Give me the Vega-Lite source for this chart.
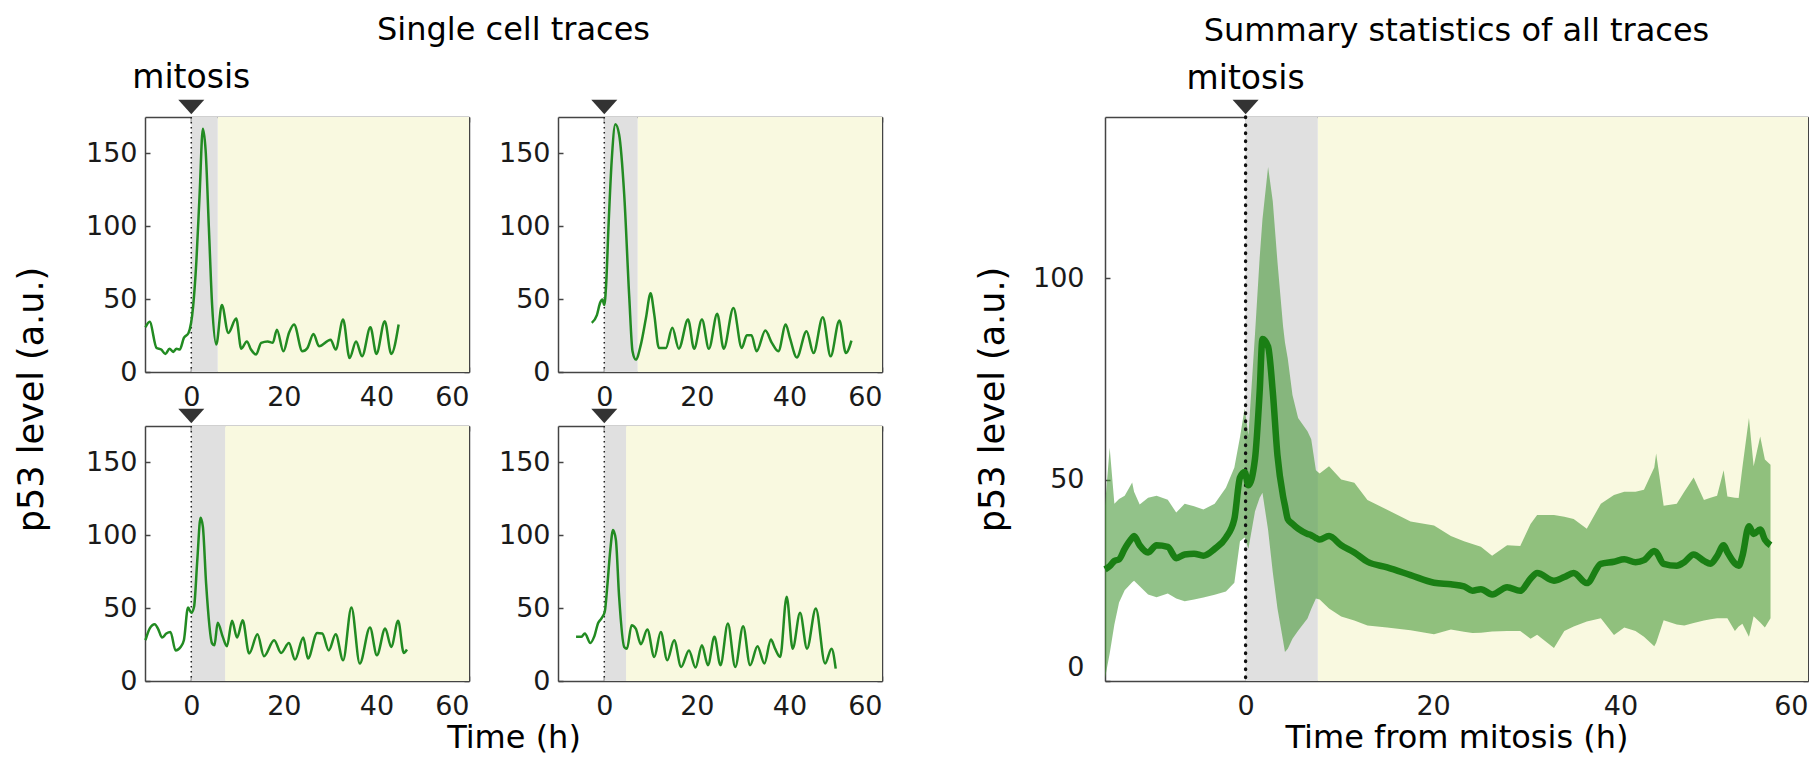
{
  "$schema": "https://vega.github.io/schema/vega-lite/v6.json",
  "background": "white",
  "padding": {"left": 14, "top": 14, "right": 0, "bottom": 6},
  "config": {
    "font": "DejaVu Sans",
    "view": {"stroke": null},
    "title": {"fontSize": 32, "fontWeight": "normal", "color": "#000", "font": "DejaVu Sans", "offset": 15, "frame": "group", "anchor": "middle"},
    "axis": {"grid": false, "domainColor": "#444", "domainWidth": 1.5, "tickColor": "#444", "tickWidth": 1.5, "tickSize": -5,
      "labelFont": "DejaVu Sans", "labelFontSize": 27, "labelColor": "#1a1a1a", "titleFont": "DejaVu Sans", "titleFontSize": 32, "titleFontWeight": "normal", "titleColor": "#000"},
    "axisBottom": {"labelPadding": 17, "titlePadding": 3},
    "axisLeft": {"labelPadding": 13, "titlePadding": 36},
    "axisTop": {"labels": false},
    "axisRight": {"labels": false}
  },
  "datasets": {
    "phases": [
      {"cell": "A", "grey_end": 5.7},
      {"cell": "B", "grey_end": 7.2},
      {"cell": "C", "grey_end": 7.3},
      {"cell": "D", "grey_end": 4.7},
      {"cell": "S", "grey_end": 7.7}
    ],
    "traces": [
      {"cell": "A", "t": -9.9, "p53": 30.7}, {"cell": "A", "t": -9.0, "p53": 34.4}, {"cell": "A", "t": -7.5, "p53": 16.5}, {"cell": "A", "t": -6.5, "p53": 15.4},
      {"cell": "A", "t": -5.6, "p53": 12.4}, {"cell": "A", "t": -4.7, "p53": 16}, {"cell": "A", "t": -3.9, "p53": 13.8}, {"cell": "A", "t": -3.2, "p53": 16},
      {"cell": "A", "t": -2.5, "p53": 15.4}, {"cell": "A", "t": -1.6, "p53": 23.4}, {"cell": "A", "t": -0.6, "p53": 26.8}, {"cell": "A", "t": 0.4, "p53": 45},
      {"cell": "A", "t": 1.1, "p53": 76}, {"cell": "A", "t": 1.8, "p53": 122}, {"cell": "A", "t": 2.5, "p53": 167}, {"cell": "A", "t": 3.1, "p53": 152},
      {"cell": "A", "t": 3.8, "p53": 99}, {"cell": "A", "t": 4.5, "p53": 46}, {"cell": "A", "t": 5.4, "p53": 18.8}, {"cell": "A", "t": 6.6, "p53": 46},
      {"cell": "A", "t": 8.0, "p53": 26.8}, {"cell": "A", "t": 9.7, "p53": 36.7}, {"cell": "A", "t": 10.8, "p53": 16}, {"cell": "A", "t": 12.0, "p53": 21},
      {"cell": "A", "t": 12.9, "p53": 15.4}, {"cell": "A", "t": 14.0, "p53": 12}, {"cell": "A", "t": 15.1, "p53": 20}, {"cell": "A", "t": 16.5, "p53": 21},
      {"cell": "A", "t": 17.6, "p53": 20}, {"cell": "A", "t": 18.5, "p53": 29}, {"cell": "A", "t": 19.9, "p53": 14.2}, {"cell": "A", "t": 21.1, "p53": 26.8},
      {"cell": "A", "t": 22.2, "p53": 32.6}, {"cell": "A", "t": 24.0, "p53": 14.2}, {"cell": "A", "t": 25.1, "p53": 16.5}, {"cell": "A", "t": 26.4, "p53": 26.1},
      {"cell": "A", "t": 27.6, "p53": 17.7}, {"cell": "A", "t": 30.1, "p53": 22.2}, {"cell": "A", "t": 31.2, "p53": 15.4}, {"cell": "A", "t": 32.8, "p53": 36},
      {"cell": "A", "t": 34.2, "p53": 9.6}, {"cell": "A", "t": 35.6, "p53": 21}, {"cell": "A", "t": 36.9, "p53": 10.8}, {"cell": "A", "t": 38.7, "p53": 30.7},
      {"cell": "A", "t": 40.0, "p53": 12.4}, {"cell": "A", "t": 41.8, "p53": 34.9}, {"cell": "A", "t": 43.2, "p53": 12.4}, {"cell": "A", "t": 44.8, "p53": 32.6},

      {"cell": "B", "t": -2.7, "p53": 33.7}, {"cell": "B", "t": -1.6, "p53": 39}, {"cell": "B", "t": -0.9, "p53": 47.5}, {"cell": "B", "t": -0.4, "p53": 49.8},
      {"cell": "B", "t": 0.0, "p53": 46}, {"cell": "B", "t": 0.4, "p53": 60}, {"cell": "B", "t": 0.9, "p53": 99}, {"cell": "B", "t": 1.6, "p53": 145},
      {"cell": "B", "t": 2.4, "p53": 170}, {"cell": "B", "t": 3.2, "p53": 163}, {"cell": "B", "t": 4.3, "p53": 122}, {"cell": "B", "t": 5.4, "p53": 51},
      {"cell": "B", "t": 6.1, "p53": 14.2}, {"cell": "B", "t": 6.8, "p53": 8.5}, {"cell": "B", "t": 7.9, "p53": 18.8}, {"cell": "B", "t": 9.0, "p53": 37},
      {"cell": "B", "t": 10.0, "p53": 54}, {"cell": "B", "t": 10.8, "p53": 39.4}, {"cell": "B", "t": 11.8, "p53": 16.5}, {"cell": "B", "t": 13.3, "p53": 16.5},
      {"cell": "B", "t": 14.7, "p53": 30.3}, {"cell": "B", "t": 16.1, "p53": 16}, {"cell": "B", "t": 18.1, "p53": 36}, {"cell": "B", "t": 19.4, "p53": 16},
      {"cell": "B", "t": 21.1, "p53": 36}, {"cell": "B", "t": 22.6, "p53": 16}, {"cell": "B", "t": 24.4, "p53": 40}, {"cell": "B", "t": 25.8, "p53": 16},
      {"cell": "B", "t": 27.9, "p53": 44}, {"cell": "B", "t": 29.7, "p53": 16.5}, {"cell": "B", "t": 30.8, "p53": 25.2}, {"cell": "B", "t": 31.8, "p53": 25.2},
      {"cell": "B", "t": 32.9, "p53": 14.2}, {"cell": "B", "t": 34.8, "p53": 28.4}, {"cell": "B", "t": 36.2, "p53": 20}, {"cell": "B", "t": 37.6, "p53": 14.2},
      {"cell": "B", "t": 39.2, "p53": 32.6}, {"cell": "B", "t": 40.1, "p53": 23.4}, {"cell": "B", "t": 41.6, "p53": 10}, {"cell": "B", "t": 43.7, "p53": 28},
      {"cell": "B", "t": 45.2, "p53": 13}, {"cell": "B", "t": 47.2, "p53": 37.6}, {"cell": "B", "t": 48.9, "p53": 10.8}, {"cell": "B", "t": 50.8, "p53": 35.3},
      {"cell": "B", "t": 52.2, "p53": 13}, {"cell": "B", "t": 53.4, "p53": 21.6},

      {"cell": "C", "t": -9.9, "p53": 28}, {"cell": "C", "t": -9.0, "p53": 36}, {"cell": "C", "t": -7.9, "p53": 39}, {"cell": "C", "t": -7.2, "p53": 36},
      {"cell": "C", "t": -6.3, "p53": 29.8}, {"cell": "C", "t": -5.4, "p53": 32.6}, {"cell": "C", "t": -4.5, "p53": 33.7}, {"cell": "C", "t": -3.4, "p53": 21},
      {"cell": "C", "t": -2.3, "p53": 23.4}, {"cell": "C", "t": -1.6, "p53": 28}, {"cell": "C", "t": -0.7, "p53": 50.5}, {"cell": "C", "t": 0.0, "p53": 46.8},
      {"cell": "C", "t": 0.6, "p53": 51}, {"cell": "C", "t": 1.3, "p53": 83}, {"cell": "C", "t": 2.0, "p53": 112}, {"cell": "C", "t": 2.5, "p53": 106},
      {"cell": "C", "t": 3.2, "p53": 67}, {"cell": "C", "t": 4.5, "p53": 25.7}, {"cell": "C", "t": 5.0, "p53": 24.5}, {"cell": "C", "t": 5.7, "p53": 40},
      {"cell": "C", "t": 6.8, "p53": 30.3}, {"cell": "C", "t": 7.7, "p53": 23.9}, {"cell": "C", "t": 8.8, "p53": 41.3}, {"cell": "C", "t": 9.9, "p53": 29.8},
      {"cell": "C", "t": 11.1, "p53": 41.7}, {"cell": "C", "t": 12.5, "p53": 18.8}, {"cell": "C", "t": 14.3, "p53": 32}, {"cell": "C", "t": 15.7, "p53": 17},
      {"cell": "C", "t": 17.9, "p53": 28}, {"cell": "C", "t": 19.4, "p53": 19.3}, {"cell": "C", "t": 21.1, "p53": 26}, {"cell": "C", "t": 22.4, "p53": 14.7},
      {"cell": "C", "t": 24.2, "p53": 29.8}, {"cell": "C", "t": 25.2, "p53": 15.4}, {"cell": "C", "t": 27.2, "p53": 33}, {"cell": "C", "t": 28.3, "p53": 32.6},
      {"cell": "C", "t": 29.7, "p53": 21}, {"cell": "C", "t": 31.2, "p53": 32}, {"cell": "C", "t": 32.8, "p53": 14.2}, {"cell": "C", "t": 34.6, "p53": 50.5},
      {"cell": "C", "t": 36.4, "p53": 12}, {"cell": "C", "t": 38.6, "p53": 36.7}, {"cell": "C", "t": 40.1, "p53": 17.7}, {"cell": "C", "t": 41.9, "p53": 36},
      {"cell": "C", "t": 43.2, "p53": 23.4}, {"cell": "C", "t": 44.7, "p53": 41.3}, {"cell": "C", "t": 45.9, "p53": 19.3}, {"cell": "C", "t": 46.6, "p53": 21.6},

      {"cell": "D", "t": -6.1, "p53": 30.3}, {"cell": "D", "t": -5.0, "p53": 30.3}, {"cell": "D", "t": -4.2, "p53": 32.6}, {"cell": "D", "t": -3.0, "p53": 26.1},
      {"cell": "D", "t": -2.2, "p53": 30.3}, {"cell": "D", "t": -1.3, "p53": 40}, {"cell": "D", "t": -0.6, "p53": 43}, {"cell": "D", "t": 0.1, "p53": 47.5},
      {"cell": "D", "t": 0.7, "p53": 67}, {"cell": "D", "t": 1.3, "p53": 90}, {"cell": "D", "t": 1.9, "p53": 103.7}, {"cell": "D", "t": 2.5, "p53": 97},
      {"cell": "D", "t": 3.2, "p53": 58}, {"cell": "D", "t": 4.3, "p53": 23.4}, {"cell": "D", "t": 4.9, "p53": 22.2}, {"cell": "D", "t": 5.9, "p53": 38.3},
      {"cell": "D", "t": 6.8, "p53": 36}, {"cell": "D", "t": 7.9, "p53": 25.2}, {"cell": "D", "t": 9.3, "p53": 35.3}, {"cell": "D", "t": 10.8, "p53": 16.5},
      {"cell": "D", "t": 12.2, "p53": 33.7}, {"cell": "D", "t": 13.6, "p53": 14.2}, {"cell": "D", "t": 15.1, "p53": 28}, {"cell": "D", "t": 16.6, "p53": 9.6},
      {"cell": "D", "t": 18.3, "p53": 21}, {"cell": "D", "t": 19.7, "p53": 9.2}, {"cell": "D", "t": 21.1, "p53": 24.5}, {"cell": "D", "t": 22.4, "p53": 10.8},
      {"cell": "D", "t": 23.8, "p53": 30.3}, {"cell": "D", "t": 25.1, "p53": 10.8}, {"cell": "D", "t": 26.7, "p53": 39.4}, {"cell": "D", "t": 28.3, "p53": 9.6},
      {"cell": "D", "t": 30.0, "p53": 37.6}, {"cell": "D", "t": 31.5, "p53": 10.8}, {"cell": "D", "t": 33.1, "p53": 23.9}, {"cell": "D", "t": 34.6, "p53": 12},
      {"cell": "D", "t": 36.0, "p53": 28.4}, {"cell": "D", "t": 36.9, "p53": 22.2}, {"cell": "D", "t": 38.0, "p53": 16.5}, {"cell": "D", "t": 39.4, "p53": 57.8},
      {"cell": "D", "t": 40.7, "p53": 22.2}, {"cell": "D", "t": 42.3, "p53": 46.8}, {"cell": "D", "t": 43.8, "p53": 22.2}, {"cell": "D", "t": 45.7, "p53": 49.8},
      {"cell": "D", "t": 47.7, "p53": 12}, {"cell": "D", "t": 49.1, "p53": 22.2}, {"cell": "D", "t": 50.0, "p53": 8.5}
    ],
    "summary": [
      {"t": -15.0, "mean": 27.7, "lo": 0.7, "hi": 43.5}, {"t": -14.5, "mean": 28.5, "lo": 6.8, "hi": 57.9}, {"t": -14.0, "mean": 29.8, "lo": 14, "hi": 44},
      {"t": -13.5, "mean": 30.2, "lo": 19.5, "hi": 45.2}, {"t": -12.9, "mean": 32.8, "lo": 22.5, "hi": 46}, {"t": -12.1, "mean": 35.5, "lo": 24.5, "hi": 49.3},
      {"t": -11.9, "mean": 36, "lo": 24.9, "hi": 47}, {"t": -11.3, "mean": 33.7, "lo": 23.5, "hi": 43.8}, {"t": -10.4, "mean": 31.9, "lo": 21.5, "hi": 45.5},
      {"t": -9.5, "mean": 33.7, "lo": 20.8, "hi": 46}, {"t": -8.3, "mean": 33.3, "lo": 21.7, "hi": 45}, {"t": -7.4, "mean": 30.5, "lo": 20.5, "hi": 41.8},
      {"t": -6.5, "mean": 31.4, "lo": 19.8, "hi": 44}, {"t": -5.5, "mean": 31.6, "lo": 20.2, "hi": 43.4}, {"t": -4.5, "mean": 31.1, "lo": 20.7, "hi": 42.6},
      {"t": -3.3, "mean": 32.8, "lo": 21.4, "hi": 44}, {"t": -2.1, "mean": 35.6, "lo": 22.2, "hi": 48}, {"t": -1.2, "mean": 40.2, "lo": 24.4, "hi": 53},
      {"t": -0.6, "mean": 50.5, "lo": 34.7, "hi": 60.5}, {"t": -0.1, "mean": 51.9, "lo": 35.6, "hi": 67.7}, {"t": 0.3, "mean": 48.6, "lo": 32.8, "hi": 61},
      {"t": 1.0, "mean": 55.1, "lo": 42.1, "hi": 86}, {"t": 1.5, "mean": 71.8, "lo": 45.5, "hi": 105}, {"t": 1.8, "mean": 84.9, "lo": 46.7, "hi": 114.6},
      {"t": 2.4, "mean": 83, "lo": 37.5, "hi": 127.6}, {"t": 2.9, "mean": 71.8, "lo": 27, "hi": 119}, {"t": 3.4, "mean": 56, "lo": 18, "hi": 104},
      {"t": 4.0, "mean": 45.8, "lo": 10, "hi": 88}, {"t": 4.2, "mean": 43.5, "lo": 7.2, "hi": 84}, {"t": 4.5, "mean": 40.2, "lo": 8, "hi": 80},
      {"t": 5.0, "mean": 39, "lo": 10.5, "hi": 71}, {"t": 5.6, "mean": 37.8, "lo": 12.5, "hi": 65.3}, {"t": 6.6, "mean": 36.5, "lo": 15.5, "hi": 62},
      {"t": 7.0, "mean": 36.2, "lo": 17.9, "hi": 60}, {"t": 7.5, "mean": 35.5, "lo": 20.5, "hi": 52.3}, {"t": 7.9, "mean": 35.1, "lo": 20.2, "hi": 51.5},
      {"t": 8.9, "mean": 36, "lo": 18, "hi": 53.3}, {"t": 10.2, "mean": 33.7, "lo": 16, "hi": 50}, {"t": 11.6, "mean": 31.9, "lo": 15, "hi": 49.2},
      {"t": 13.0, "mean": 29.6, "lo": 13.8, "hi": 44.9}, {"t": 15.1, "mean": 28.2, "lo": 13.3, "hi": 42.5}, {"t": 17.6, "mean": 26.3, "lo": 12.6, "hi": 39.6},
      {"t": 20.1, "mean": 24.4, "lo": 11.6, "hi": 38.6}, {"t": 21.9, "mean": 24, "lo": 12.8, "hi": 36}, {"t": 23.3, "mean": 23.5, "lo": 12.2, "hi": 34.7},
      {"t": 24.2, "mean": 22.4, "lo": 11.9, "hi": 34}, {"t": 25.1, "mean": 22.8, "lo": 12, "hi": 33.3}, {"t": 26.3, "mean": 21.5, "lo": 12.3, "hi": 31.1},
      {"t": 27.9, "mean": 23.3, "lo": 12.4, "hi": 33.7}, {"t": 29.3, "mean": 22.4, "lo": 12.4, "hi": 33.5}, {"t": 30.4, "mean": 25.4, "lo": 10.5, "hi": 39},
      {"t": 31.1, "mean": 26.8, "lo": 11.5, "hi": 41.2}, {"t": 32.9, "mean": 24.9, "lo": 8.2, "hi": 41.2}, {"t": 34.0, "mean": 25.8, "lo": 12.4, "hi": 40.8},
      {"t": 35.0, "mean": 26.8, "lo": 13.5, "hi": 40.2}, {"t": 36.4, "mean": 24.3, "lo": 14.8, "hi": 37.8}, {"t": 37.9, "mean": 29.1, "lo": 15.6, "hi": 44},
      {"t": 39.3, "mean": 29.6, "lo": 11.4, "hi": 46.2}, {"t": 40.4, "mean": 30.2, "lo": 13.3, "hi": 47}, {"t": 41.6, "mean": 29.5, "lo": 12.4, "hi": 47},
      {"t": 42.5, "mean": 30, "lo": 11, "hi": 47.5}, {"t": 43.6, "mean": 32.3, "lo": 8.6, "hi": 53}, {"t": 43.8, "mean": 32, "lo": 9.5, "hi": 56.5},
      {"t": 44.6, "mean": 29.1, "lo": 15.1, "hi": 43.5}, {"t": 46.0, "mean": 28.6, "lo": 14, "hi": 44}, {"t": 46.8, "mean": 29.5, "lo": 13.8, "hi": 47},
      {"t": 47.8, "mean": 31.4, "lo": 14.4, "hi": 50.5}, {"t": 48.9, "mean": 29.8, "lo": 15, "hi": 44.9}, {"t": 49.6, "mean": 29.1, "lo": 15.3, "hi": 45.5},
      {"t": 50.3, "mean": 31, "lo": 15.6, "hi": 46}, {"t": 51.0, "mean": 33.7, "lo": 15.6, "hi": 52.3}, {"t": 51.4, "mean": 32, "lo": 15.6, "hi": 45.8},
      {"t": 52.2, "mean": 29.2, "lo": 12.4, "hi": 45.5}, {"t": 52.6, "mean": 28.6, "lo": 13.5, "hi": 45.4}, {"t": 53.0, "mean": 31, "lo": 14.2, "hi": 53},
      {"t": 53.7, "mean": 38.4, "lo": 11, "hi": 65.3}, {"t": 54.2, "mean": 36.5, "lo": 16.1, "hi": 53.3}, {"t": 54.9, "mean": 37.6, "lo": 14.5, "hi": 60.7},
      {"t": 55.4, "mean": 35.1, "lo": 13.3, "hi": 55}, {"t": 56.0, "mean": 33.7, "lo": 15.6, "hi": 53.7}
    ]
  },
  "spacing": 92,
  "hconcat": [
    {
      "title": {"text": "Single cell traces", "anchor": "start", "frame": "group", "align": "center", "dx": 368.5},
      "columns": 2,
      "bounds": "flush",
      "spacing": {"row": 54, "column": 89},
      "concat": [
        {
          "width": 324, "height": 255,
          "resolve": {"axis": {"x": "independent", "y": "independent"}},
          "layer": [
            {"data": {"name": "phases"}, "transform": [{"filter": "datum.cell === 'A'"}], "mark": {"type": "rect", "color": "#f9f9e0"},
             "encoding": {"x": {"field": "grey_end", "type": "quantitative", "scale": {"domain": [-10, 60], "nice": false, "zero": false}, "axis": null}, "x2": {"datum": 60}}},
            {"data": {"name": "phases"}, "transform": [{"filter": "datum.cell === 'A'"}], "mark": {"type": "rect", "color": "#e0e0e0"},
             "encoding": {"x": {"field": "grey_end", "type": "quantitative", "axis": null}, "x2": {"datum": 0}}},
            {"data": {"name": "phases"}, "transform": [{"filter": "datum.cell === 'A'"}], "mark": {"type": "rule", "color": "#222", "strokeDash": [1.5, 3.5], "strokeWidth": 1.5},
             "encoding": {"x": {"datum": 0, "type": "quantitative", "axis": null}}},
            {"data": {"name": "traces"}, "transform": [{"filter": "datum.cell === 'A'"}], "mark": {"type": "line", "color": "#228b22", "strokeWidth": 2.5, "interpolate": "monotone"},
             "encoding": {"x": {"field": "t", "type": "quantitative", "axis": {"values": [0, 20, 40, 60], "title": null, "labelFlush": true}},
                          "y": {"field": "p53", "type": "quantitative", "scale": {"domain": [0, 175], "nice": false}, "axis": {"values": [0, 50, 100, 150], "title": "p53 level (a.u.)", "titleY": 282, "titleFontSize": 35}}}},
            {"data": {"name": "phases"}, "transform": [{"filter": "datum.cell === 'A'"}], "mark": {"type": "point", "shape": "M-1,-0.55L1,-0.55L0,0.55Z", "size": 676, "filled": true, "color": "#333", "opacity": 1, "yOffset": -10},
             "encoding": {"x": {"datum": 0, "type": "quantitative", "axis": {"orient": "top", "values": [0, 20, 40, 60], "title": null}},
                          "y": {"datum": 175, "type": "quantitative", "axis": {"orient": "right", "values": [0, 50, 100, 150], "title": null}}}},
            {"data": {"name": "phases"}, "transform": [{"filter": "datum.cell === 'A'"}], "mark": {"type": "text", "text": "mitosis", "fontSize": 33, "baseline": "alphabetic", "align": "center", "dy": -29, "color": "#000"},
             "encoding": {"x": {"datum": 0, "type": "quantitative", "axis": null}, "y": {"datum": 175, "type": "quantitative", "axis": null}}}
          ]
        },
        {
          "width": 324, "height": 255,
          "resolve": {"axis": {"x": "independent", "y": "independent"}},
          "layer": [
            {"data": {"name": "phases"}, "transform": [{"filter": "datum.cell === 'B'"}], "mark": {"type": "rect", "color": "#f9f9e0"},
             "encoding": {"x": {"field": "grey_end", "type": "quantitative", "scale": {"domain": [-10, 60], "nice": false, "zero": false}, "axis": null}, "x2": {"datum": 60}}},
            {"data": {"name": "phases"}, "transform": [{"filter": "datum.cell === 'B'"}], "mark": {"type": "rect", "color": "#e0e0e0"},
             "encoding": {"x": {"field": "grey_end", "type": "quantitative", "axis": null}, "x2": {"datum": 0}}},
            {"data": {"name": "phases"}, "transform": [{"filter": "datum.cell === 'B'"}], "mark": {"type": "rule", "color": "#222", "strokeDash": [1.5, 3.5], "strokeWidth": 1.5},
             "encoding": {"x": {"datum": 0, "type": "quantitative", "axis": null}}},
            {"data": {"name": "traces"}, "transform": [{"filter": "datum.cell === 'B'"}], "mark": {"type": "line", "color": "#228b22", "strokeWidth": 2.5, "interpolate": "monotone"},
             "encoding": {"x": {"field": "t", "type": "quantitative", "axis": {"values": [0, 20, 40, 60], "title": null, "labelFlush": true}},
                          "y": {"field": "p53", "type": "quantitative", "scale": {"domain": [0, 175], "nice": false}, "axis": {"values": [0, 50, 100, 150], "title": null}}}},
            {"data": {"name": "phases"}, "transform": [{"filter": "datum.cell === 'B'"}], "mark": {"type": "point", "shape": "M-1,-0.55L1,-0.55L0,0.55Z", "size": 676, "filled": true, "color": "#333", "opacity": 1, "yOffset": -10},
             "encoding": {"x": {"datum": 0, "type": "quantitative", "axis": {"orient": "top", "values": [0, 20, 40, 60], "title": null}},
                          "y": {"datum": 175, "type": "quantitative", "axis": {"orient": "right", "values": [0, 50, 100, 150], "title": null}}}}
          ]
        },
        {
          "width": 324, "height": 255,
          "resolve": {"axis": {"x": "independent", "y": "independent"}},
          "layer": [
            {"data": {"name": "phases"}, "transform": [{"filter": "datum.cell === 'C'"}], "mark": {"type": "rect", "color": "#f9f9e0"},
             "encoding": {"x": {"field": "grey_end", "type": "quantitative", "scale": {"domain": [-10, 60], "nice": false, "zero": false}, "axis": null}, "x2": {"datum": 60}}},
            {"data": {"name": "phases"}, "transform": [{"filter": "datum.cell === 'C'"}], "mark": {"type": "rect", "color": "#e0e0e0"},
             "encoding": {"x": {"field": "grey_end", "type": "quantitative", "axis": null}, "x2": {"datum": 0}}},
            {"data": {"name": "phases"}, "transform": [{"filter": "datum.cell === 'C'"}], "mark": {"type": "rule", "color": "#222", "strokeDash": [1.5, 3.5], "strokeWidth": 1.5},
             "encoding": {"x": {"datum": 0, "type": "quantitative", "axis": null}}},
            {"data": {"name": "traces"}, "transform": [{"filter": "datum.cell === 'C'"}], "mark": {"type": "line", "color": "#228b22", "strokeWidth": 2.5, "interpolate": "monotone"},
             "encoding": {"x": {"field": "t", "type": "quantitative", "axis": {"values": [0, 20, 40, 60], "title": "Time (h)", "titleX": 368.5, "labelFlush": true}},
                          "y": {"field": "p53", "type": "quantitative", "scale": {"domain": [0, 175], "nice": false}, "axis": {"values": [0, 50, 100, 150], "title": null}}}},
            {"data": {"name": "phases"}, "transform": [{"filter": "datum.cell === 'C'"}], "mark": {"type": "point", "shape": "M-1,-0.55L1,-0.55L0,0.55Z", "size": 676, "filled": true, "color": "#333", "opacity": 1, "yOffset": -10},
             "encoding": {"x": {"datum": 0, "type": "quantitative", "axis": {"orient": "top", "values": [0, 20, 40, 60], "title": null}},
                          "y": {"datum": 175, "type": "quantitative", "axis": {"orient": "right", "values": [0, 50, 100, 150], "title": null}}}}
          ]
        },
        {
          "width": 324, "height": 255,
          "resolve": {"axis": {"x": "independent", "y": "independent"}},
          "layer": [
            {"data": {"name": "phases"}, "transform": [{"filter": "datum.cell === 'D'"}], "mark": {"type": "rect", "color": "#f9f9e0"},
             "encoding": {"x": {"field": "grey_end", "type": "quantitative", "scale": {"domain": [-10, 60], "nice": false, "zero": false}, "axis": null}, "x2": {"datum": 60}}},
            {"data": {"name": "phases"}, "transform": [{"filter": "datum.cell === 'D'"}], "mark": {"type": "rect", "color": "#e0e0e0"},
             "encoding": {"x": {"field": "grey_end", "type": "quantitative", "axis": null}, "x2": {"datum": 0}}},
            {"data": {"name": "phases"}, "transform": [{"filter": "datum.cell === 'D'"}], "mark": {"type": "rule", "color": "#222", "strokeDash": [1.5, 3.5], "strokeWidth": 1.5},
             "encoding": {"x": {"datum": 0, "type": "quantitative", "axis": null}}},
            {"data": {"name": "traces"}, "transform": [{"filter": "datum.cell === 'D'"}], "mark": {"type": "line", "color": "#228b22", "strokeWidth": 2.5, "interpolate": "monotone"},
             "encoding": {"x": {"field": "t", "type": "quantitative", "axis": {"values": [0, 20, 40, 60], "title": null, "labelFlush": true}},
                          "y": {"field": "p53", "type": "quantitative", "scale": {"domain": [0, 175], "nice": false}, "axis": {"values": [0, 50, 100, 150], "title": null}}}},
            {"data": {"name": "phases"}, "transform": [{"filter": "datum.cell === 'D'"}], "mark": {"type": "point", "shape": "M-1,-0.55L1,-0.55L0,0.55Z", "size": 676, "filled": true, "color": "#333", "opacity": 1, "yOffset": -10},
             "encoding": {"x": {"datum": 0, "type": "quantitative", "axis": {"orient": "top", "values": [0, 20, 40, 60], "title": null}},
                          "y": {"datum": 175, "type": "quantitative", "axis": {"orient": "right", "values": [0, 50, 100, 150], "title": null}}}}
          ]
        }
      ]
    },
    {
      "title": {"text": "Summary statistics of all traces"},
      "width": 703, "height": 564,
      "resolve": {"axis": {"x": "independent", "y": "independent"}},
      "layer": [
        {"data": {"name": "phases"}, "transform": [{"filter": "datum.cell === 'S'"}], "mark": {"type": "rect", "color": "#f9f9e0"},
         "encoding": {"x": {"field": "grey_end", "type": "quantitative", "scale": {"domain": [-15, 60], "nice": false, "zero": false}, "axis": null}, "x2": {"datum": 60}}},
        {"data": {"name": "phases"}, "transform": [{"filter": "datum.cell === 'S'"}], "mark": {"type": "rect", "color": "#e0e0e0"},
         "encoding": {"x": {"field": "grey_end", "type": "quantitative", "axis": null}, "x2": {"datum": 0}}},
        {"data": {"name": "summary"}, "mark": {"type": "area", "color": "#4a9a3a", "opacity": 0.6},
         "encoding": {"x": {"field": "t", "type": "quantitative", "axis": null},
                      "y": {"field": "lo", "type": "quantitative", "scale": {"domain": [0, 140], "nice": false}, "axis": null}, "y2": {"field": "hi"}}},
        {"data": {"name": "phases"}, "transform": [{"filter": "datum.cell === 'S'"}], "mark": {"type": "rule", "color": "#111", "strokeDash": [0.5, 7.5], "strokeWidth": 3.4, "strokeCap": "round"},
         "encoding": {"x": {"datum": 0, "type": "quantitative", "axis": null}}},
        {"data": {"name": "summary"}, "mark": {"type": "line", "color": "#1a7f14", "strokeWidth": 6.5, "interpolate": "monotone"},
         "encoding": {"x": {"field": "t", "type": "quantitative", "axis": {"values": [0, 20, 40, 60], "title": "Time from mitosis (h)", "labelFlush": true}},
                      "y": {"field": "mean", "type": "quantitative", "axis": {"values": [0, 50, 100], "title": "p53 level (a.u.)", "titleFontSize": 35, "labelFlush": true, "labelPadding": 26, "titlePadding": 22}}}},
        {"data": {"name": "phases"}, "transform": [{"filter": "datum.cell === 'S'"}], "mark": {"type": "point", "shape": "M-1,-0.55L1,-0.55L0,0.55Z", "size": 676, "filled": true, "color": "#333", "opacity": 1, "yOffset": -10},
         "encoding": {"x": {"datum": 0, "type": "quantitative", "axis": {"orient": "top", "values": [0, 20, 40, 60], "title": null}},
                      "y": {"datum": 140, "type": "quantitative", "axis": {"orient": "right", "values": [0, 50, 100], "title": null}}}},
        {"data": {"name": "phases"}, "transform": [{"filter": "datum.cell === 'S'"}], "mark": {"type": "text", "text": "mitosis", "fontSize": 33, "baseline": "alphabetic", "align": "center", "dy": -28, "color": "#000"},
         "encoding": {"x": {"datum": 0, "type": "quantitative", "axis": null}, "y": {"datum": 140, "type": "quantitative", "axis": null}}}
      ]
    }
  ]
}
